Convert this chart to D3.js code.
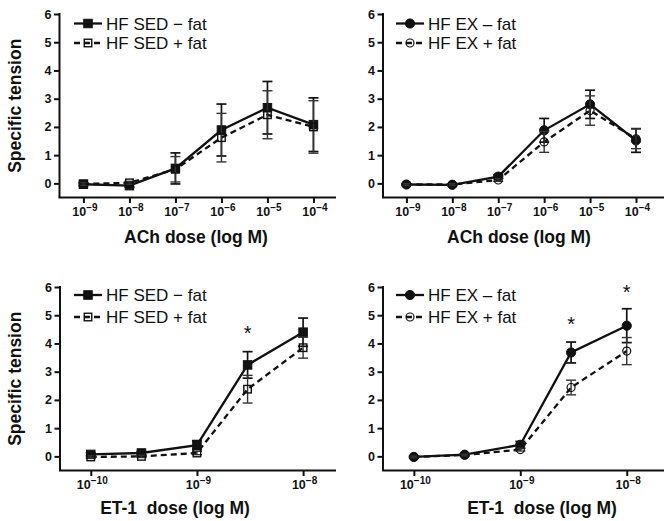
<!DOCTYPE html>
<html><head><meta charset="utf-8">
<script src="https://cdn.jsdelivr.net/npm/d3@7"></script>
<style>
html,body{margin:0;padding:0;background:#fff;}
svg{display:block;font-family:"Liberation Sans",Arial,Helvetica,sans-serif;}
</style></head>
<body>
<svg id="chart" width="664" height="521"></svg>
<script>
// ---------- DATA ----------
const achDoses = [1e-9, 1e-8, 1e-7, 1e-6, 1e-5, 1e-4];
const achTickExps = [-9, -8, -7, -6, -5, -4];
const et1Doses = [1e-10, 3e-10, 1e-9, 3e-9, 1e-8];
const et1TickExps = [-10, -9, -8];
const yTicks = [0, 1, 2, 3, 4, 5, 6];

const sedAchMinus = [-0.03, -0.08, 0.53, 1.89, 2.68, 2.08];
const sedAchMinusErr = [0.05, 0.05, 0.55, 0.92, 0.93, 0.95];
const sedAchPlus = [-0.02, 0.02, 0.50, 1.62, 2.43, 2.00];
const sedAchPlusErr = [0.05, 0.05, 0.45, 0.86, 0.85, 0.93];

const exAchMinus = [-0.04, -0.05, 0.24, 1.88, 2.80, 1.52];
const exAchMinusErr = [0.03, 0.03, 0.06, 0.42, 0.50, 0.42];
const exAchPlus = [-0.04, -0.04, 0.12, 1.47, 2.58, 1.58];
const exAchPlusErr = [0.03, 0.03, 0.05, 0.37, 0.52, 0.35];

const sedEt1Minus = [0.07, 0.12, 0.40, 3.24, 4.40];
const sedEt1MinusErr = [0.05, 0.06, 0.16, 0.47, 0.50];
const sedEt1Plus = [-0.02, 0.00, 0.12, 2.38, 3.85];
const sedEt1PlusErr = [0.04, 0.04, 0.06, 0.49, 0.37];

const exEt1Minus = [-0.02, 0.06, 0.41, 3.68, 4.63];
const exEt1MinusErr = [0.03, 0.03, 0.12, 0.37, 0.60];
const exEt1Plus = [-0.02, 0.05, 0.24, 2.44, 3.73];
const exEt1PlusErr = [0.03, 0.03, 0.05, 0.26, 0.48];

const sedEt1Stars = [{dose: 3e-9, value: 4.53}];
const exEt1Stars = [{dose: 3e-9, value: 4.85}, {dose: 1e-8, value: 6.0}];

const sedLabels = ["HF SED \u2212 fat", "HF SED + fat"];
const exLabels = ["HF EX \u2013 fat", "HF EX + fat"];
const yTitle = "Specific tension";
const achTitle = "ACh dose (log M)";
const et1Title = "ET-1\u00a0 dose (log M)";

// ---------- LAYOUT ----------
const panels = [
  {x0: 59.5, x1: 336, yTop: 14, yBot: 197.5, xdom: [-9.52, -3.51], doses: achDoses, exps: achTickExps,
   series: [[sedAchMinus, sedAchMinusErr], [sedAchPlus, sedAchPlusErr]], marker: "square", labels: sedLabels,
   legendX: 74, legendY: [23.5, 43], ylab: true, xTitle: achTitle, titleX: 196, titleY: 243, stars: []},
  {x0: 383, x1: 664, yTop: 14, yBot: 197.5, xdom: [-9.51, -3.39], doses: achDoses, exps: achTickExps,
   series: [[exAchMinus, exAchMinusErr], [exAchPlus, exAchPlusErr]], marker: "circle", labels: exLabels,
   legendX: 396, legendY: [23.5, 43], ylab: false, xTitle: achTitle, titleX: 519, titleY: 243, stars: []},
  {x0: 60, x1: 336, yTop: 287, yBot: 470.5, xdom: [-10.29, -7.69], doses: et1Doses, exps: et1TickExps,
   series: [[sedEt1Minus, sedEt1MinusErr], [sedEt1Plus, sedEt1PlusErr]], marker: "square", labels: sedLabels,
   legendX: 74, legendY: [295, 317], ylab: true, xTitle: et1Title, titleX: 175, titleY: 514, stars: sedEt1Stars},
  {x0: 383, x1: 664, yTop: 287, yBot: 470.5, xdom: [-10.29, -7.65], doses: et1Doses, exps: et1TickExps,
   series: [[exEt1Minus, exEt1MinusErr], [exEt1Plus, exEt1PlusErr]], marker: "circle", labels: exLabels,
   legendX: 396, legendY: [295, 317], ylab: false, xTitle: et1Title, titleX: 542, titleY: 514, stars: exEt1Stars}
];

const svg = d3.select("#chart");
const ink = "#111";

function drawMarker(g, type, filled, cx, cy) {
  if (type === "square") {
    const s = filled ? 8.5 : 7.5;
    g.append("rect").attr("x", cx - s/2).attr("y", cy - s/2).attr("width", s).attr("height", s)
      .attr("fill", filled ? ink : "none").attr("stroke", ink).attr("stroke-width", filled ? 1 : 1.4);
  } else {
    g.append("circle").attr("cx", cx).attr("cy", cy).attr("r", filled ? 4.6 : 4)
      .attr("fill", filled ? ink : "none").attr("stroke", ink).attr("stroke-width", filled ? 1 : 1.2);
  }
}

panels.forEach(p => {
  const x = d3.scaleLog().domain(p.xdom.map(e => Math.pow(10, e))).range([p.x0, p.x1]);
  const y = d3.scaleLinear().domain([-0.5, 6]).range([p.yBot, p.yTop]);
  const g = svg.append("g");

  // y axis
  const ya = g.append("g").attr("transform", `translate(${p.x0},0)`)
    .call(d3.axisLeft(y).tickValues(yTicks).tickSize(5.5).tickPadding(2.5).tickSizeOuter(0).tickFormat(d3.format("d")));
  ya.select(".domain").attr("stroke", ink).attr("stroke-width", 2).attr("d", `M0,${y(6) - 1}V${p.yBot}`);
  ya.selectAll(".tick line").attr("stroke", ink).attr("stroke-width", 2);
  ya.selectAll(".tick text").attr("fill", ink).style("font-size", "12.5px").style("font-weight", "bold")
    .style("font-family", "'Liberation Sans',Arial,sans-serif");

  // x axis
  const tickVals = p.exps.map(e => Math.pow(10, e));
  const xa = g.append("g").attr("transform", `translate(0,${p.yBot})`)
    .call(d3.axisBottom(x).tickValues(tickVals).tickSize(5.5).tickSizeOuter(0).tickFormat(() => ""));
  xa.select(".domain").attr("stroke", ink).attr("stroke-width", 2).attr("d", `M${p.x0 - 1},0H${p.x1}`);
  xa.selectAll(".tick line").attr("stroke", ink).attr("stroke-width", 2);
  xa.selectAll(".tick text").remove();
  p.exps.forEach(e => {
    const t = g.append("text").attr("x", x(Math.pow(10, e)) + 1.5).attr("y", p.yBot + 18.2)
      .attr("text-anchor", "middle").attr("fill", ink)
      .style("font-size", "12.5px").style("font-weight", "bold");
    t.append("tspan").text("10");
    t.append("tspan").attr("dy", -5).style("font-size", "10px").text("\u2212" + Math.abs(e));
  });

  // axis titles
  g.append("text").attr("x", p.titleX).attr("y", p.titleY).attr("text-anchor", "middle")
    .attr("fill", ink).style("font-size", "17.5px").style("font-weight", "bold").text(p.xTitle);
  if (p.ylab) {
    const cy = (p.yTop + p.yBot) / 2;
    g.append("text").attr("transform", `translate(21,${cy}) rotate(-90)`).attr("text-anchor", "middle")
      .attr("fill", ink).style("font-size", "17.5px").style("font-weight", "bold").text(yTitle);
  }

  // series
  p.series.forEach((s, si) => {
    const vals = s[0], errs = s[1];
    const pts = p.doses.map((d, i) => ({d, v: vals[i], e: errs[i]}));
    const line = d3.line().x(o => x(o.d)).y(o => y(o.v));
    g.append("path").datum(pts).attr("d", line).attr("fill", "none").attr("stroke", ink)
      .attr("stroke-width", 2.3).attr("stroke-dasharray", si === 0 ? null : "6,4");
    pts.forEach(o => {
      const cx = x(o.d);
      const eg = g.append("g").attr("stroke", si === 0 ? ink : "#333").attr("stroke-width", si === 0 ? 1.7 : 1.4);
      eg.append("line").attr("x1", cx).attr("x2", cx).attr("y1", y(o.v + o.e)).attr("y2", y(o.v - o.e));
      eg.append("line").attr("x1", cx - 5).attr("x2", cx + 5).attr("y1", y(o.v + o.e)).attr("y2", y(o.v + o.e));
      eg.append("line").attr("x1", cx - 5).attr("x2", cx + 5).attr("y1", y(o.v - o.e)).attr("y2", y(o.v - o.e));
    });
    pts.forEach(o => drawMarker(g, p.marker, si === 0, x(o.d), y(o.v)));
  });

  // stars
  p.stars.forEach(st => {
    g.append("text").attr("x", x(st.dose)).attr("y", y(st.value) + 12).attr("text-anchor", "middle")
      .attr("fill", ink).style("font-size", "20px").text("*");
  });

  // legend
  p.labels.forEach((lab, i) => {
    const ly = p.legendY[i];
    g.append("line").attr("x1", p.legendX).attr("x2", p.legendX + 28).attr("y1", ly).attr("y2", ly)
      .attr("stroke", ink).attr("stroke-width", 2.3).attr("stroke-dasharray", i === 0 ? null : "6,4");
    drawMarker(g, p.marker, i === 0, p.legendX + 14, ly);
    g.append("text").attr("x", p.legendX + 32).attr("y", ly + 6).attr("fill", ink)
      .style("font-size", "17px").text(lab);
  });
});
</script>
</body></html>
